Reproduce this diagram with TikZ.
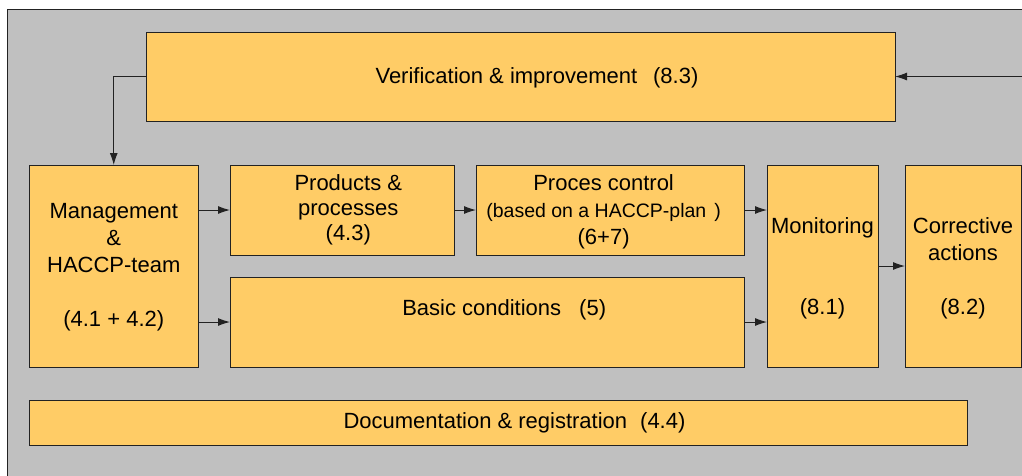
\documentclass[tikz,border=0pt]{standalone}
\usepackage{fontspec}
\setmainfont{Liberation Sans}
\usetikzlibrary{arrows.meta}
\definecolor{bggray}{HTML}{C0C0C0}
\definecolor{boxfill}{HTML}{FFCC66}
\definecolor{linecol}{HTML}{222222}
\tikzset{
  blk/.style={draw=linecol, line width=1pt, fill=boxfill, inner sep=0pt, outer sep=0pt},
  txt/.style={inner sep=0pt, align=center, font=\fontsize{22}{27}\selectfont},
  arr/.style={draw=linecol, line width=1pt, -{Latex[length=12pt,width=8pt]}}
}
\begin{document}
\begin{tikzpicture}[x=1pt,y=-1pt]
\useasboundingbox (0,0) rectangle (1022,475);
\clip (0,0) rectangle (1022,475);
\fill[white] (0,0) rectangle (1022,475);
\draw[draw=linecol, line width=1pt, fill=bggray] (7.5,9) rectangle (1060,500);

% boxes
\node[blk, minimum width=749pt, minimum height=89pt] (verif) at (520.5,76.5) {};
\node[blk, minimum width=168.5pt, minimum height=202pt] (mgmt) at (113.75,266) {};
\node[blk, minimum width=224pt, minimum height=90pt] (prod) at (342,210) {};
\node[blk, minimum width=268pt, minimum height=90pt] (proc) at (610,210) {};
\node[blk, minimum width=514pt, minimum height=90pt] (basic) at (487,322) {};
\node[blk, minimum width=111pt, minimum height=202pt] (monit) at (822.5,266) {};
\node[blk, minimum width=116pt, minimum height=202pt] (corr) at (963,266) {};
\node[blk, minimum width=938pt, minimum height=45pt] (doc) at (498.4,422.8) {};

% texts
\node[txt, anchor=base] (verift) at (537,83.3) {Verification \& improvement\hspace{16pt}(8.3)};
\node[txt] (mgmtt) at (113.75,267.5) {Management\\\&\\HACCP-team\\[27pt](4.1 + 4.2)};
\node[txt, font=\fontsize{22}{25}\selectfont] (prodt) at (348.3,210) {Products \&\\processes\\(4.3)};
\node[txt] (proct) at (603.6,211.5) {Proces control\\{\fontsize{19.5}{27}\selectfont (based on a HACCP-plan\hspace{8pt})}\\(6+7)};
\node[txt, anchor=base] (basict) at (504.2,315) {Basic conditions\hspace{18pt}(5)};
\node[txt] (monitt) at (822.5,268) {Monitoring\\[54pt](8.1)};
\node[txt] (corrt) at (963,268) {Corrective\\actions\\[27pt](8.2)};
\node[txt, anchor=base] (doct) at (514.5,428.3) {Documentation \& registration\hspace{13pt}(4.4)};

% connectors
\coordinate (loopR) at (1045,0);
\draw[arr] (verif.west) -| (mgmt.north);
\draw[arr] (mgmt.east |- prod.west) -- (prod.west);
\draw[arr] (mgmt.east |- basic.west) -- (basic.west);
\draw[arr] (prod.east) -- (proc.west);
\draw[arr] (proc.east) -- (monit.west |- proc.east);
\draw[arr] (basic.east) -- (monit.west |- basic.east);
\draw[arr] (monit.east) -- (corr.west);
\draw[arr] (corr.east) -- (corr.east -| loopR) |- (verif.east);
\end{tikzpicture}
\end{document}
